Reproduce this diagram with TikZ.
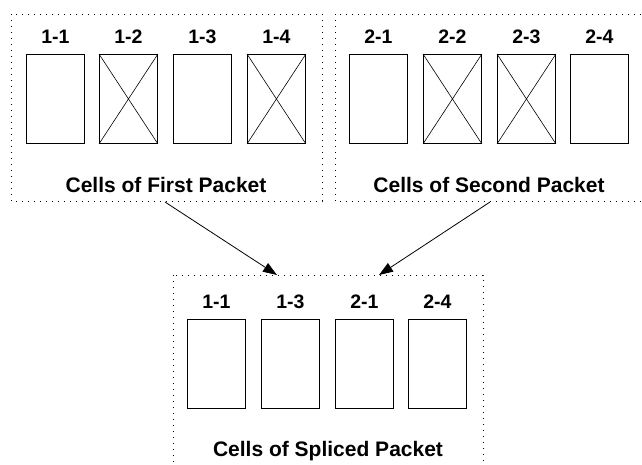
\documentclass[tikz,border=0pt]{standalone}
\usepackage{fontspec}
\setmainfont{Liberation Sans}
\usetikzlibrary{arrows.meta}
\tikzset{
  cell/.style={draw, line width=0.9pt, minimum width=58pt, minimum height=89pt, inner sep=0pt, anchor=north west},
  lbl/.style={font=\bfseries\fontsize{19.5}{22}\selectfont, anchor=base, inner sep=0pt},
  ttl/.style={font=\bfseries\fontsize{21}{24}\selectfont, anchor=base, inner sep=0pt},
  dotbox/.style={draw, line width=0.9pt, dash pattern=on 0.9pt off 5.1pt},
  xline/.style={line width=0.6pt},
  arr/.style={line width=0.8pt, -{Triangle[length=14pt,width=10pt]}}
}
\begin{document}
\begin{tikzpicture}[x=1pt,y=-1pt]
\useasboundingbox (0,0) rectangle (642,464);
\clip (0,0) rectangle (642,464);
% containers
\draw[dotbox] (11,14) rectangle (322,201);
\draw[dotbox] (335,14) rectangle (646,201);
\draw[dotbox] (173,275) rectangle (483,480);
% cells
\foreach \n/\x in {a1/26,a2/99,a3/173,a4/247}{
  \node[cell] (\n) at (\x,54) {};
}
\foreach \n/\x in {b1/349,b2/423,b3/497,b4/570}{
  \node[cell] (\n) at (\x,54) {};
}
\foreach \n/\x in {c1/187,c2/261,c3/335,c4/408}{
  \node[cell] (\n) at (\x,319) {};
}
\foreach \n in {a2,a4,b2,b3}{
  \draw[xline] (\n.north west) -- (\n.south east);
  \draw[xline] (\n.north east) -- (\n.south west);
}
% labels
\node[lbl] (la1) at ([yshift=11pt]a1.north) {1-1};
\node[lbl] (la2) at ([yshift=11pt]a2.north) {1-2};
\node[lbl] (la3) at ([yshift=11pt]a3.north) {1-3};
\node[lbl] (la4) at ([yshift=11pt]a4.north) {1-4};
\node[lbl] (lb1) at ([yshift=11pt]b1.north) {2-1};
\node[lbl] (lb2) at ([yshift=11pt]b2.north) {2-2};
\node[lbl] (lb3) at ([yshift=11pt]b3.north) {2-3};
\node[lbl] (lb4) at ([yshift=11pt]b4.north) {2-4};
\node[lbl] (lc1) at ([yshift=11pt]c1.north) {1-1};
\node[lbl] (lc2) at ([yshift=11pt]c2.north) {1-3};
\node[lbl] (lc3) at ([yshift=11pt]c3.north) {2-1};
\node[lbl] (lc4) at ([yshift=11pt]c4.north) {2-4};
% titles
\node[ttl] (t1) at (166,192) {Cells of First Packet};
\node[ttl] (t2) at (489,192) {Cells of Second Packet};
\node[ttl] (t3) at (328,456) {Cells of Spliced Packet};
% arrows
\coordinate (s1) at (165,202);
\coordinate (e1) at (277,275);
\coordinate (s2) at (490,202);
\coordinate (e2) at (379,275);
\draw[arr] (s1) -- (e1);
\draw[arr] (s2) -- (e2);
\end{tikzpicture}
\end{document}
